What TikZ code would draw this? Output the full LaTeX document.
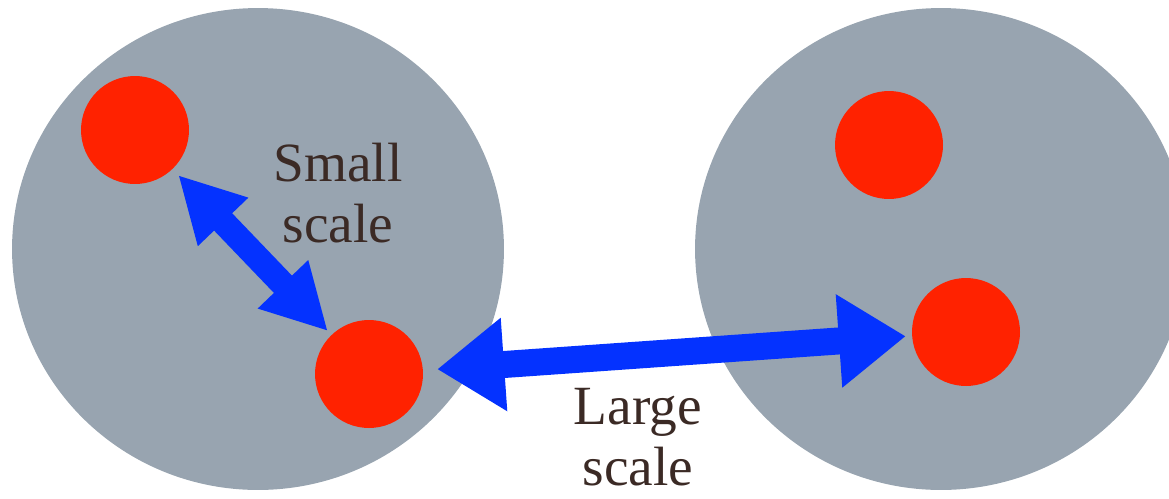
\documentclass[tikz,border=0pt]{standalone}
\usepackage{fontspec}
\setmainfont{Liberation Serif}
\usetikzlibrary{arrows.meta, shapes.geometric}
\definecolor{cellgray}{HTML}{98A4B0}
\definecolor{dotred}{HTML}{FF2200}
\definecolor{arrowblue}{HTML}{0432FF}
\definecolor{labelbrown}{HTML}{3B2A25}
\tikzset{
	cellnode/.style={
			ellipse,
			fill=cellgray,
			draw=none,
			minimum width=98.4mm,
			minimum height=96.4mm,
			inner sep=0pt
		},
	dotnode/.style={
			circle,
			fill=dotred,
			draw=none,
			minimum size=21.6mm,
			inner sep=0pt
		},
	smallarrow/.style={
			draw=arrowblue,
			line width=5mm,
			{Triangle[length=13mm,width=13mm]}-{Triangle[length=13mm,width=13mm]}
		},
	largearrow/.style={
			draw=arrowblue,
			line width=5.4mm,
			{Triangle[length=13.4mm,width=17.8mm]}-{Triangle[length=13.4mm,width=17.8mm]}
		},
	scalelabel/.style={
			align=center,
			text=labelbrown,
			inner sep=0pt,
			font=\fontsize{31.5pt}{35pt}\selectfont
		}
}

\begin{document}
\begin{tikzpicture}[x=0.02cm, y=-0.02cm]
\useasboundingbox (0,0) rectangle (1169,498);
    \node[cellnode] (c1) at (258,249) {};
    \node[cellnode] (c2) at (941,249) {};

    \node[dotnode] (d1) at (135,130) {};
    \node[dotnode] (d2) at (369,374) {};
    \node[dotnode] (d3) at (889,145) {};
    \node[dotnode] (d4) at (966,332) {};

    \draw[smallarrow, shorten <=1.6mm, shorten >=1mm] (d1) -- (d2);
    \draw[largearrow, shorten <=2.8mm, shorten >=1.2mm] (d2) -- (d4);

    \node[scalelabel] (lsmall) at (338,193) {Small\\scale};
    \node[scalelabel] (llarge) at (638,437) {Large\\scale};
\end{tikzpicture}
\end{document}
